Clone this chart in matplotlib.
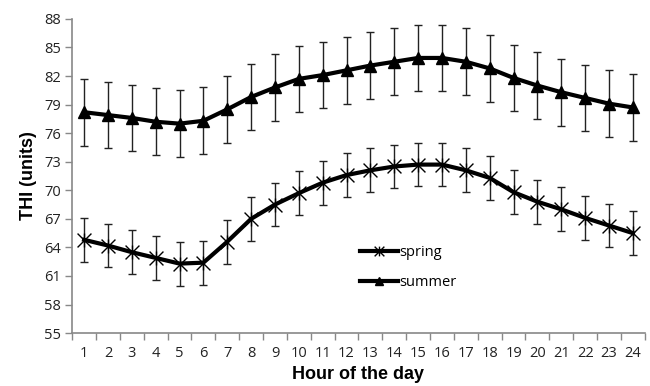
import matplotlib.pyplot as plt
import numpy as np
from matplotlib.path import Path

# Dados
hours = list(range(1, 25))
spring = [64.8, 64.2, 63.5, 62.9, 62.3, 62.4, 64.6, 67.0, 68.5, 69.7,
          70.8, 71.6, 72.1, 72.5, 72.7, 72.7, 72.1, 71.3, 69.8, 68.8,
          68.0, 67.1, 66.3, 65.5]
spring_err = [2.3] * 24
summer = [78.2, 77.9, 77.6, 77.2, 77.0, 77.3, 78.5, 79.8, 80.8, 81.7,
          82.1, 82.6, 83.1, 83.5, 83.9, 83.9, 83.5, 82.8, 81.8, 81.0,
          80.3, 79.7, 79.1, 78.7]
summer_err = [3.5] * 24
yticks = [55, 58, 61, 64, 67, 70, 73, 76, 79, 82, 85, 88]

# Marcador estrela estilo Excel (x + linha vertical)
star = Path([(-1, -1), (1, 1), (-1, 1), (1, -1), (0, -1), (0, 1)],
            [Path.MOVETO, Path.LINETO, Path.MOVETO, Path.LINETO, Path.MOVETO, Path.LINETO])

fig = plt.figure(figsize=(6.5, 3.86), dpi=100)
ax = fig.add_axes([0.111, 0.137, 0.881, 0.814])

ax.errorbar(hours, spring, yerr=spring_err, fmt='none', ecolor='#222222',
            elinewidth=1, capsize=3, capthick=1)
ax.errorbar(hours, summer, yerr=summer_err, fmt='none', ecolor='#222222',
            elinewidth=1, capsize=3, capthick=1)
ax.plot(hours, spring, color='black', lw=3, marker=star, ms=10, mew=1,
        mfc='none', mec='black', label='spring')
ax.plot(hours, summer, color='black', lw=3, marker='^', ms=8,
        mfc='black', mec='black', label='summer')

# Eixos
ax.set_xlim(0.5, 24.5)
ax.set_ylim(55, 88)
ax.set_yticks(yticks)
ax.set_xticks(hours)
ax.set_xticks(np.arange(0.5, 25, 1), minor=True)
ax.tick_params(axis='x', which='major', length=0, pad=9)
ax.tick_params(axis='x', which='minor', length=5, color='#888888', width=1)
ax.tick_params(axis='y', length=5, color='#888888', width=1, pad=3)
for lbl in ax.get_xticklabels() + ax.get_yticklabels():
    lbl.set_fontfamily('Open Sans')
    lbl.set_fontsize(10.5)
    lbl.set_color('#222222')
for s in ['top', 'right']:
    ax.spines[s].set_visible(False)
for s in ['left', 'bottom']:
    ax.spines[s].set_color('#888888')
    ax.spines[s].set_linewidth(1.2)

ax.set_ylabel('THI (units)', fontfamily='Liberation Sans', fontweight='bold',
              fontsize=13, labelpad=5)
ax.set_xlabel('Hour of the day', fontfamily='Liberation Sans', fontweight='bold',
              fontsize=13, labelpad=4)

leg = ax.legend(loc='upper left', bbox_to_anchor=(0.503, 0.28), frameon=False,
                borderpad=0, borderaxespad=0, markerscale=0.7,
                handlelength=2.6, handletextpad=0.1, labelspacing=1.0,
                prop={'family': 'Open Sans', 'size': 10.5})

fig.savefig('out.png', dpi=100)
